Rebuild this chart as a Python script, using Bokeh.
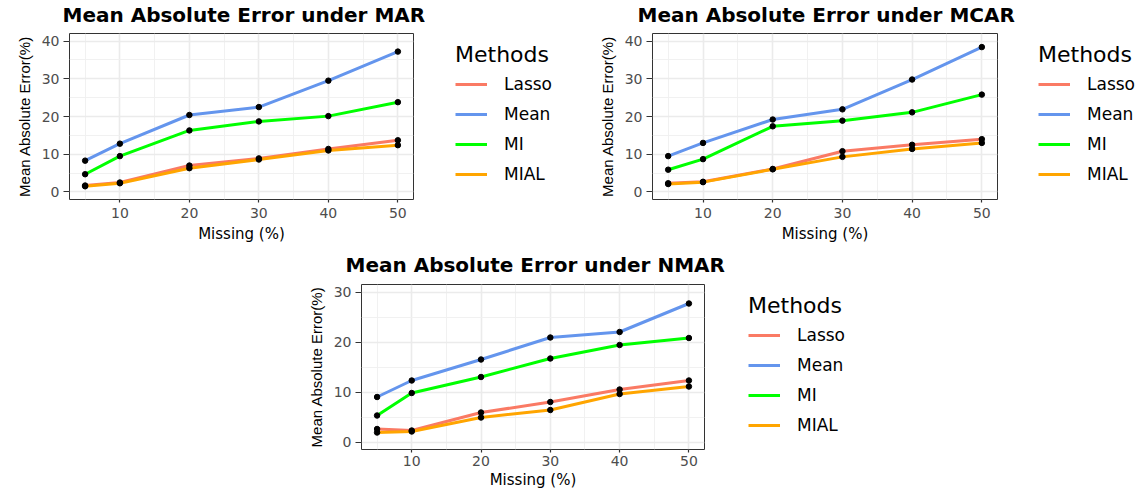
from bokeh.plotting import figure
from bokeh.models import Range1d, FixedTicker, Legend, LegendItem, Spacer, Title
from bokeh.layouts import row, column
from bokeh.embed import file_html
from bokeh.resources import INLINE

# ---------------- data ----------------
missing = [5, 10, 20, 30, 40, 50]
methods = ["Lasso", "Mean", "MI", "MIAL"]
colors = ["#FA7A64", "#6495ED", "#00FF00", "#FFA500"]

lasso_mar = [1.7, 2.5, 7.0, 8.9, 11.4, 13.7]
mean_mar = [8.3, 12.8, 20.4, 22.5, 29.5, 37.2]
mi_mar = [4.7, 9.5, 16.3, 18.7, 20.1, 23.8]
mial_mar = [1.5, 2.3, 6.3, 8.6, 11.0, 12.4]

lasso_mcar = [2.3, 2.7, 6.1, 10.8, 12.5, 14.0]
mean_mcar = [9.5, 13.0, 19.2, 21.9, 29.8, 38.4]
mi_mcar = [5.9, 8.7, 17.4, 18.9, 21.1, 25.8]
mial_mcar = [2.1, 2.6, 6.0, 9.3, 11.4, 13.0]

lasso_nmar = [2.6, 2.3, 5.9, 8.0, 10.5, 12.3]
mean_nmar = [9.0, 12.3, 16.5, 20.9, 22.0, 27.7]
mi_nmar = [5.3, 9.8, 13.0, 16.7, 19.4, 20.8]
mial_nmar = [1.9, 2.1, 4.9, 6.4, 9.6, 11.1]

x_major = [10, 20, 30, 40, 50]
x_minor = [5, 15, 25, 35, 45]
y_major_40 = [0, 10, 20, 30, 40]
y_minor_40 = [5, 15, 25, 35]
y_major_30 = [0, 10, 20, 30]
y_minor_30 = [5, 15, 25]

titles = ["Mean Absolute Error under MAR",
          "Mean Absolute Error under MCAR",
          "Mean Absolute Error under NMAR"]

FONT = "DejaVu Sans"


def build(title_text, series, fw, fh, left, right, top, bottom,
          y_lo, y_hi, y_major, y_minor, title_dx, title_gap, tick_so, lab_so):
    W = left + fw + right
    H = top + fh + bottom
    p = figure(width=W, height=H, output_backend="svg", toolbar_location=None,
               tools="", x_range=Range1d(2.75, 52.25), y_range=Range1d(y_lo, y_hi),
               min_border_left=left, min_border_right=right,
               min_border_top=top, min_border_bottom=bottom,
               background_fill_color="white", border_fill_color="white")
    # spacer (closest to frame) then the real title above it
    p.add_layout(Title(text=" ", text_font_size="1px", standoff=title_gap), "above")
    p.add_layout(Title(text=title_text, text_font=FONT, text_font_size="20px",
                       text_font_style="bold", text_color="black", align="left",
                       offset=title_dx, standoff=0), "above")

    p.outline_line_color = "#333333"
    p.outline_line_width = 1

    p.xaxis.ticker = FixedTicker(ticks=x_major, minor_ticks=x_minor)
    p.yaxis.ticker = FixedTicker(ticks=y_major, minor_ticks=y_minor)
    for g in (p.xgrid[0], p.ygrid[0]):
        g.grid_line_color = "#EBEBEB"
        g.grid_line_width = 1.6
        g.minor_grid_line_color = "#EFEFEF"
        g.minor_grid_line_width = 0.9

    for ax in (p.xaxis[0], p.yaxis[0]):
        ax.axis_line_color = None
        ax.minor_tick_line_color = None
        ax.major_tick_line_color = "#333333"
        ax.major_tick_line_width = 1.2
        ax.major_tick_in = 0
        ax.major_label_text_font = FONT
        ax.major_label_text_font_size = "14px"
        ax.major_label_text_color = "#4D4D4D"
        ax.axis_label_text_font_style = "normal"
        ax.axis_label_text_color = "black"
    p.xaxis.major_tick_out = 3
    p.yaxis.major_tick_out = 6
    p.xaxis.major_label_standoff = tick_so
    p.yaxis.major_label_standoff = 4
    p.xaxis.axis_label = "Missing (%)"
    p.xaxis.axis_label_text_font = FONT
    p.xaxis.axis_label_text_font_size = "15px"
    p.xaxis.axis_label_standoff = lab_so
    p.yaxis.axis_label = "Mean Absolute Error(%)"
    p.yaxis.axis_label_text_font = "Liberation Sans"
    p.yaxis.axis_label_text_font_size = "15px"
    p.yaxis.axis_label_standoff = 6

    for vals, c in zip(series, colors):
        p.line(missing, vals, line_color=c, line_width=3)
    for vals in series:
        p.scatter(missing, vals, size=5.5, fill_color="black", line_color="black")
    return p


def legend_fig(series, W, H, lx, ly):
    # legend-only panel: proxy lines lie outside the visible x range
    q = figure(width=W, height=H, output_backend="svg", toolbar_location=None,
               tools="", x_range=Range1d(-100, -99), y_range=Range1d(0, 1),
               x_axis_type=None, y_axis_type=None,
               min_border_left=0, min_border_right=0,
               min_border_top=0, min_border_bottom=0,
               background_fill_color="white", border_fill_color="white")
    q.outline_line_color = None
    q.grid.visible = False
    rs = [q.line(missing, vals, line_color=c, line_width=3) for vals, c in zip(series, colors)]
    legend = Legend(items=[LegendItem(label=m, renderers=[r]) for m, r in zip(methods, rs)],
                    location=(lx, ly), title="Methods",
                    border_line_color=None, background_fill_alpha=0,
                    padding=0, margin=0, spacing=10,
                    glyph_width=32, glyph_height=20, label_height=20,
                    label_standoff=17, title_standoff=7,
                    label_text_font=FONT, label_text_font_size="17px",
                    label_text_color="black",
                    title_text_font=FONT, title_text_font_size="22px",
                    title_text_font_style="normal", title_text_color="black")
    q.add_layout(legend)
    return q


s_mar = [lasso_mar, mean_mar, mi_mar, mial_mar]
s_mcar = [lasso_mcar, mean_mcar, mi_mcar, mial_mcar]
s_nmar = [lasso_nmar, mean_nmar, mi_nmar, mial_nmar]

p1 = build(titles[0], s_mar, 344, 166, 69, 12, 33, 51, -2, 42,
           y_major_40, y_minor_40, -7, 4, 4, 4)
l1 = legend_fig(s_mar, 166, 250, 30, 15)
p2 = build(titles[1], s_mcar, 345, 166, 61, 18, 33, 51, -2, 42,
           y_major_40, y_minor_40, -15, 4, 4, 4)
l2 = legend_fig(s_mcar, 130, 250, 23, 15)
p3 = build(titles[2], s_nmar, 343, 166, 61, 26, 34, 41, -1.5, 31.5,
           y_major_30, y_minor_30, -16, 5, 2, 2)
l3 = legend_fig(s_nmar, 162, 241, 18, 14)

lay = column(row(p1, l1, p2, l2), row(Spacer(width=300, height=241), p3, l3))

open("out.html", "w").write(file_html(lay, INLINE, title="Mean Absolute Error"))
